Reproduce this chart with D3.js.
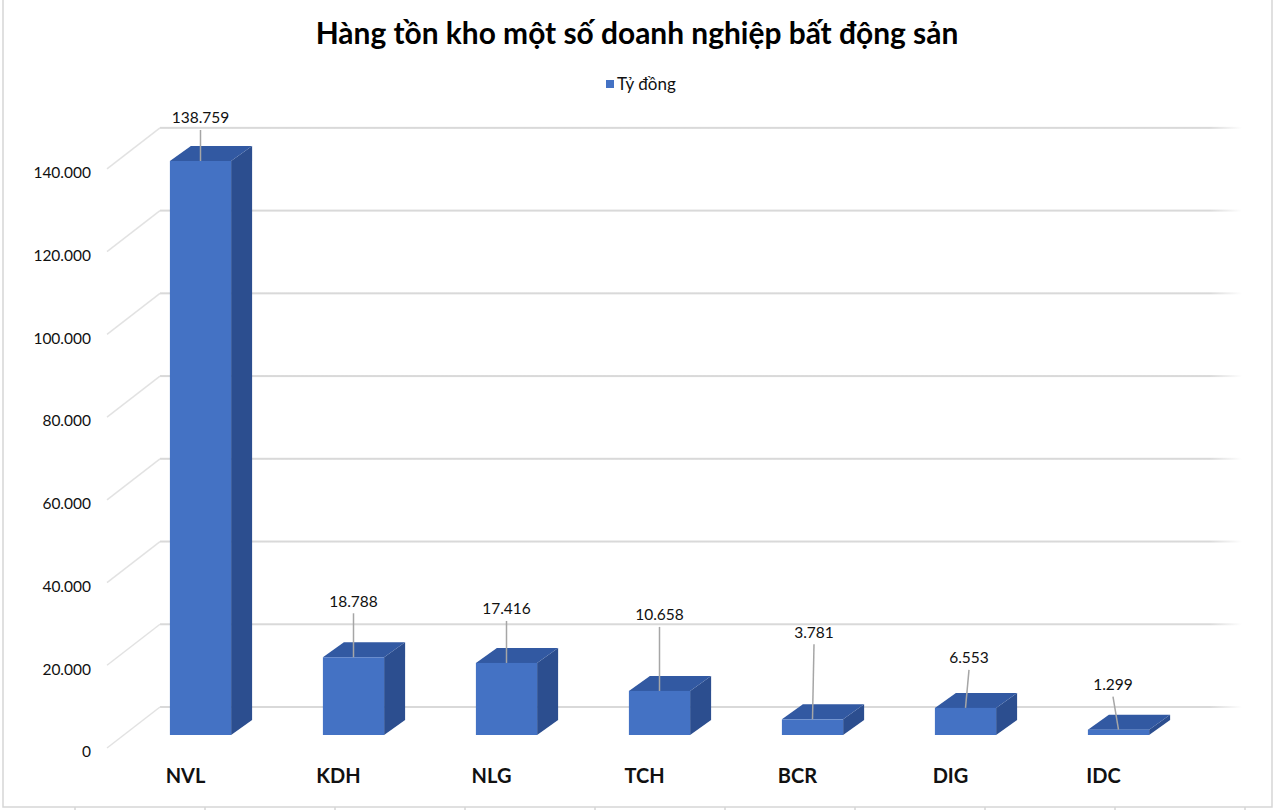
<!DOCTYPE html>
<html><head><meta charset="utf-8">
<script src="https://cdn.jsdelivr.net/npm/d3@7"></script>
<style>body{margin:0;background:#fff}svg{display:block}</style>
</head><body><svg id="c" width="1274" height="810"></svg>
<script>
// ---- data ----
const categories = ["NVL", "KDH", "NLG", "TCH", "BCR", "DIG", "IDC"];
const values = [138759, 18788, 17416, 10658, 3781, 6553, 1299];
const yTicks = [0, 20000, 40000, 60000, 80000, 100000, 120000, 140000];
const seriesName = "Tỷ đồng";
const chartTitle = "Hàng tồn kho một số doanh nghiệp bất động sản";

// ---- layout only (manually placed data labels) ----
const labelLift = [43, 56, 54, 76, 87, 50, 45];
const labelShift = [0, 0, 0, 0, 1.5, 3.5, -5.5];

const vn = d3.formatLocale({decimal: ",", thousands: ".", grouping: [3], currency: ["", ""]});
const fmt = vn.format(",d");

const svg = d3.select("#c");
const FONT = "Lato, 'Open Sans', sans-serif";

const y = d3.scaleLinear().domain([0, 140000]).range([735, 735 - 140000 * 574 / 138759]);
const x = d3.scaleBand().domain(categories).range([124, 1195]).paddingInner(0.6).paddingOuter(0.3);

const DX = 21, DY = -15;          // bar depth
const WALL_BACK = 28;             // back wall offset above bar front
const WALL_FRONT = 13;            // front edge of floor below bar front
const backX0 = 160, backX1 = 1242, frontX = 107;

// outer frame
svg.append("rect").attr("x", 0).attr("y", 0).attr("width", 1274).attr("height", 810).attr("fill", "#fff");
const frame = svg.append("g").attr("stroke", "#d6d6d6").attr("stroke-width", 1.5).attr("fill", "none");
frame.append("path").attr("d", "M3,0 L3,807 L1272,807 L1272,0");
d3.range(75, 1274, 130).forEach(t => {
  frame.append("line").attr("x1", t).attr("x2", t).attr("y1", 807).attr("y2", 810);
});

// gradient for fading gridline end
const defs = svg.append("defs");
const gr = defs.append("linearGradient").attr("id", "fade").attr("gradientUnits", "userSpaceOnUse")
  .attr("x1", backX0).attr("x2", backX1).attr("y1", 0).attr("y2", 0);
gr.append("stop").attr("offset", "0%").attr("stop-color", "#d9d9d9");
gr.append("stop").attr("offset", "97%").attr("stop-color", "#d9d9d9");
gr.append("stop").attr("offset", "100%").attr("stop-color", "#ffffff");

// gridlines (back wall + side wall diagonal)
const grid = svg.append("g");
yTicks.forEach(t => {
  const yb = y(t) - WALL_BACK;
  grid.append("rect").attr("x", backX0).attr("y", yb - 1).attr("width", backX1 - backX0).attr("height", 2)
    .attr("fill", "url(#fade)");
  grid.append("line").attr("x1", frontX).attr("y1", y(t) + WALL_FRONT).attr("x2", backX0).attr("y2", yb)
    .attr("stroke", "#e2e2e2").attr("stroke-width", 1.5);
  grid.append("text").attr("x", 91).attr("y", y(t) + WALL_FRONT + 4).attr("dy", "0.35em")
    .attr("text-anchor", "end").attr("font-family", FONT).attr("font-size", 15.5).attr("fill", "#111")
    .text(fmt(t));
});

// bars
const bars = svg.append("g");
categories.forEach((c, i) => {
  const x0 = x(c), x1 = x0 + x.bandwidth();
  const yt = y(values[i]), yb = y(0);
  const g = bars.append("g");
  g.append("path").attr("d", `M${x1},${yt} L${x1 + DX},${yt + DY} L${x1 + DX},${yb + DY} L${x1},${yb} Z`)
    .attr("fill", "#2c4e8f");
  g.append("path").attr("d", `M${x0},${yt} L${x0 + DX},${yt + DY} L${x1 + DX},${yt + DY} L${x1},${yt} Z`)
    .attr("fill", "#3259a2");
  g.append("rect").attr("x", x0).attr("y", yt).attr("width", x.bandwidth()).attr("height", yb - yt)
    .attr("fill", "#4472c4");
});

// data labels with leader lines
const lab = svg.append("g");
categories.forEach((c, i) => {
  const cx = x(c) + x.bandwidth() / 2;
  const yt = y(values[i]);
  const lx = cx + labelShift[i], ly = yt - labelLift[i];
  lab.append("line").attr("x1", lx).attr("y1", ly + 12).attr("x2", cx).attr("y2", yt)
    .attr("stroke", "#a6a6a6").attr("stroke-width", 1.5);
  lab.append("text").attr("x", lx).attr("y", ly).attr("dy", "0.35em").attr("text-anchor", "middle")
    .attr("font-family", FONT).attr("font-size", 15.5).attr("fill", "#111").text(fmt(values[i]));
});

// category labels
categories.forEach(c => {
  svg.append("text").attr("x", x(c) + x.bandwidth() / 2 - 15).attr("y", 783).attr("text-anchor", "middle")
    .attr("font-family", FONT).attr("font-weight", 700).attr("font-size", 20).attr("fill", "#111").text(c);
});

// title
const tt = svg.append("text").attr("x", 637).attr("y", 44).attr("text-anchor", "middle")
  .attr("font-family", FONT).attr("font-weight", 700).attr("font-size", 28).attr("fill", "#000")
  .text(chartTitle);
const w = tt.node().getComputedTextLength();
tt.attr("font-size", 28 * 643 / w);

// legend
svg.append("rect").attr("x", 606).attr("y", 80).attr("width", 8).attr("height", 8).attr("fill", "#4472c4");
svg.append("text").attr("x", 617).attr("y", 84).attr("dy", "0.35em").attr("font-family", FONT)
  .attr("font-size", 17).attr("fill", "#111").text(seriesName);
</script></body></html>
